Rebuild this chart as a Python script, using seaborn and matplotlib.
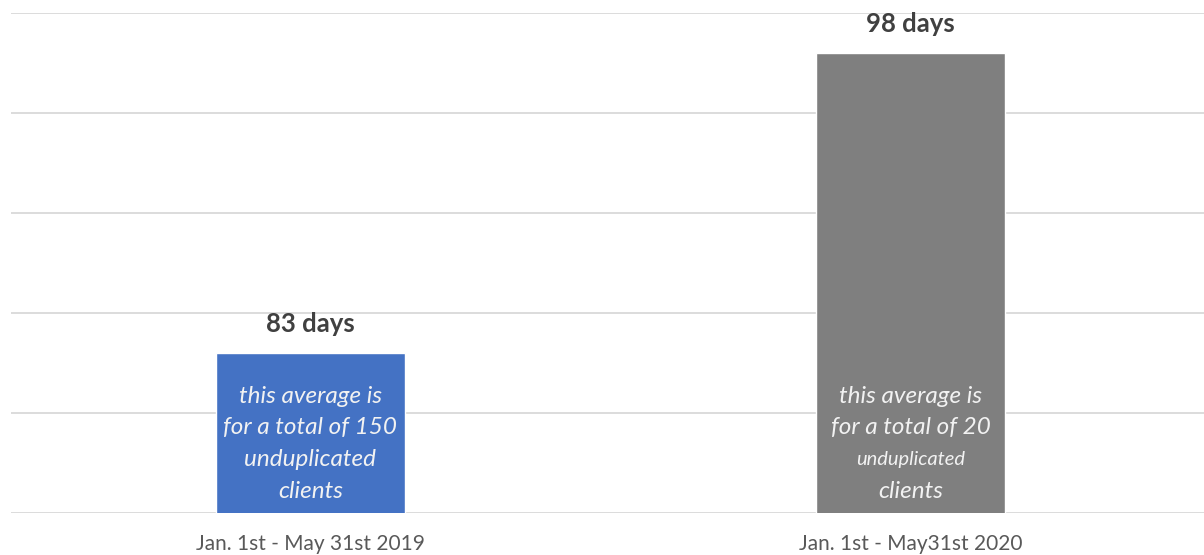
import matplotlib
matplotlib.use("Agg")
import matplotlib.pyplot as plt
import seaborn as sns
import pandas as pd

categories = ["Jan. 1st - May 31st 2019", "Jan. 1st - May31st 2020"]
values = [83, 98]
value_labels = ["83 days", "98 days"]
inner_notes = [
    ["this average is", "for a total of 150", "unduplicated", "clients"],
    ["this average is", "for a total of 20", "unduplicated", "clients"],
]
colors = ["#4472C4", "#7F7F7F"]

sns.set_theme(style="white")
plt.rcParams['font.family'] = ['Lato', 'DejaVu Sans']

W, H = 1204, 555
fig = plt.figure(figsize=(W / 100, H / 100), dpi=100)
ax = fig.add_axes([10.5 / W, 42 / H, 1200 / W, 500.5 / H])

df = pd.DataFrame({"period": categories, "days": values})
sns.barplot(data=df, x="period", y="days", hue="period", palette=colors,
            width=0.315, legend=False, ax=ax, saturation=1, zorder=3)

ax.set_xlim(-0.5, 1.5)
ax.set_ylim(75, 100)
ax.set_yticks([75, 80, 85, 90, 95, 100])
ax.set_yticklabels([])
ax.yaxis.grid(True, color="#D9D9D9", linewidth=1.3, zorder=0)
ax.set_axisbelow(True)
for s in ax.spines.values():
    s.set_visible(False)
ax.tick_params(axis="both", length=0)
ax.tick_params(axis="x", pad=15, labelsize=15, labelcolor="#595959")
ax.set_xlabel("")
ax.set_ylabel("")

for i, (v, lab) in enumerate(zip(values, value_labels)):
    ax.annotate(lab, xy=(i, v), xytext=(0, 20.5), textcoords="offset points",
                ha="center", va="center", fontsize=18.5, fontweight="bold",
                color="#404040")

line_offsets = [70, 47.5, 24.5, 1.5]
for i, lines in enumerate(inner_notes):
    for j, (line, off) in enumerate(zip(lines, line_offsets)):
        fs = 17.5
        if i == 1 and j == 2:
            fs = 14.5
        ax.annotate(line, xy=(i, 75), xytext=(0, off + 14), textcoords="offset points",
                    ha="center", va="center", fontsize=fs, fontstyle="italic",
                    color="#F2F2F2")

fig.savefig("out.png", dpi=100)
